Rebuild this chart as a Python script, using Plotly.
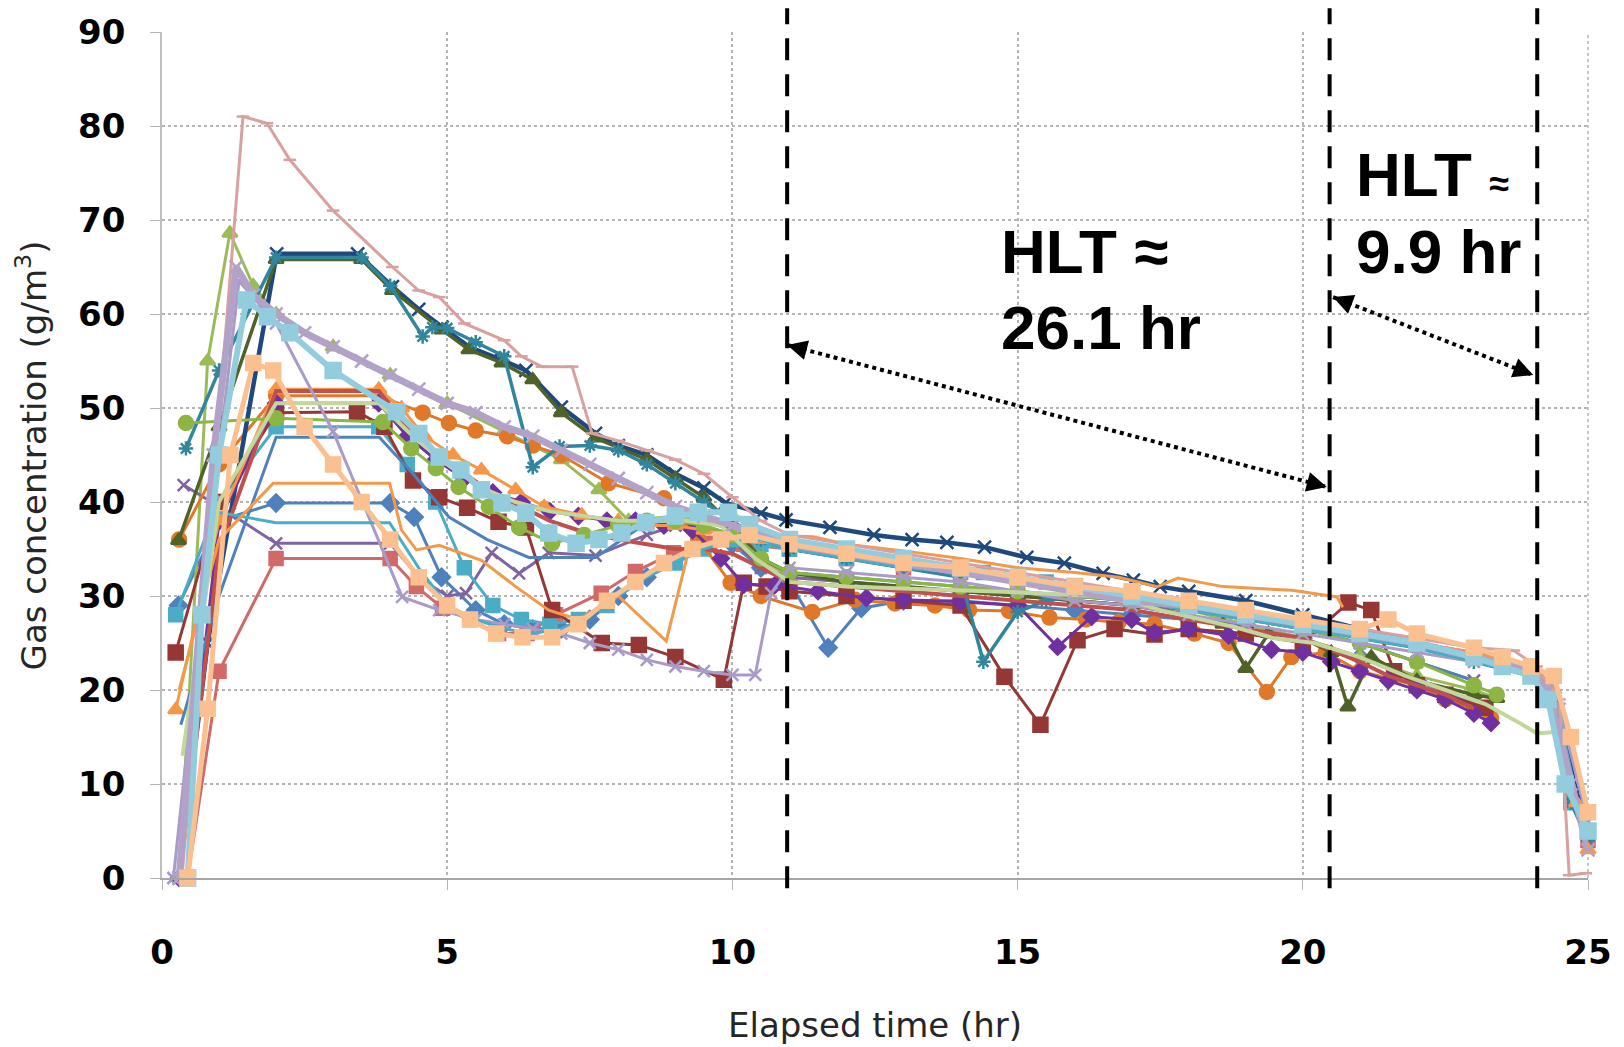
import plotly.graph_objects as go

# ---- monitoring runs: elapsed time (hr) and gas concentration (g/m3) ----
t_blue_dia = [0.29, 1.0, 2.0, 4.0, 4.42, 4.9, 5.5, 6.0, 6.5, 7.0, 7.5, 8.0, 8.5, 9.0, 9.5, 10.0, 10.5, 11.0, 11.68, 12.26, 13.0, 14.0, 15.0, 16.0, 17.0, 18.0, 19.0, 20.0, 21.0, 22.0, 23.0]
c_blue_dia = [29, 38, 39.9, 39.9, 38.4, 32, 28.5, 27, 26.5, 26.5, 27.5, 30, 32, 34, 35.5, 35.5, 33, 31.5, 24.5, 28.7, 29.5, 29.5, 29, 28.5, 28, 27.5, 27, 25.5, 23.5, 21, 18.5]

t_red_sq = [0.45, 1.0, 2.0, 4.0, 4.46, 4.92, 5.4, 5.9, 6.4, 6.9, 7.7, 8.3, 8.97, 9.6, 10.2, 11, 12, 13, 14, 15, 16, 17, 18, 19, 20, 21, 22, 23, 23.5, 24, 24.3, 24.7, 25]
c_red_sq = [0, 22, 34, 34, 31, 28.7, 27.5, 26, 26, 28, 30.3, 32.6, 34.6, 35.6, 35.5, 35, 34, 33, 32.5, 31.5, 30.5, 29.5, 29, 28, 27, 26, 25, 24, 23.5, 22.5, 20, 9, 4]

t_green_tri = [0.3, 0.8, 1.19, 1.6, 2.0, 3.0, 4.0, 5.0, 6.0, 7.0, 7.66, 8.18, 9.0, 9.5, 10.0, 10.5, 11, 12, 13, 14, 15, 16, 17, 18, 19, 20, 21, 22, 23, 23.4]
c_green_tri = [0, 55, 68.6, 63, 60, 56.5, 53.5, 50.5, 47.5, 44.5, 41.3, 38, 38.5, 38, 37, 34, 32, 31.5, 31, 30.5, 30, 29.5, 29, 28.5, 27, 25.5, 23.5, 21.5, 20, 19.1]

t_violet_x = [0.38, 1.19, 2.0, 4.0, 4.5, 5.0, 5.33, 5.78, 6.26, 6.78, 7.6, 8.5, 9.0, 9.5, 10.0, 10.5, 11, 12, 13, 14, 15, 16, 17, 18, 19, 20, 21, 22, 23]
c_violet_x = [41.8, 38.8, 35.6, 35.6, 32, 30, 30.3, 34.6, 32.4, 34.6, 34.3, 36.5, 37.5, 37.5, 36, 33, 32, 31.5, 31, 30.5, 30, 29.5, 29, 28.5, 27.5, 26.5, 25, 23, 21]

t_aqua_star = [0.24, 1.0, 2.0, 3.8, 4.3, 4.8, 5.3, 5.8, 6.3, 6.8, 7.3, 7.8, 8.3, 9.0, 9.5, 10, 10.5, 11, 12, 13, 14, 14.4, 15.0, 15.5, 16, 17, 18, 19, 20, 21, 22, 23, 24, 24.3, 24.7, 25]
c_aqua_star = [28, 40, 48, 48, 44, 40, 33, 29, 27.5, 27, 27.5, 29, 31.5, 33.5, 35, 36, 35.5, 35, 34, 33.5, 33, 32.5, 32, 31.5, 31, 30, 29, 28, 27, 26, 25, 23.5, 22, 20, 8, 5]

t_orange_circ = [0.3, 1.0, 2.0, 3.8, 4.57, 5.03, 5.5, 6.05, 6.5, 7.0, 7.83, 8.8, 9.4, 9.97, 10.5, 11.4, 12.15, 12.85, 13.55, 14.15, 14.85, 15.56, 16.2, 16.77, 17.4, 18.1, 18.7, 19.37, 19.8, 20.4, 21, 22, 22.5, 23, 23.3]
c_orange_circ = [36, 44, 51.3, 51.3, 49.5, 48.4, 47.6, 47, 46, 45, 42, 40.4, 36, 31.4, 30, 28.3, 29.6, 29.2, 29, 28.5, 28.4, 27.7, 27.5, 27.2, 27, 26, 25, 19.8, 23.5, 24, 22, 20.5, 19, 18, 17]

t_navy = [0.3, 0.8, 2.01, 3.43, 4.04, 4.5, 4.91, 5.38, 5.96, 6.38, 7.0, 7.6, 8.0, 8.5, 9.0, 9.5, 9.88, 10.5, 10.94, 11.71, 12.48, 13.15, 13.76, 14.42, 15.16, 15.82, 16.5, 17.03, 17.5, 18, 19, 20, 21, 22, 23, 24, 24.4, 24.8, 25]
c_navy = [0, 25, 66.4, 66.4, 62.9, 60.5, 58.6, 56.5, 55.1, 54, 50.1, 47.3, 46, 45, 43, 41.5, 39.9, 38.8, 38.1, 37.3, 36.5, 36, 35.7, 35.2, 34.1, 33.5, 32.4, 31.7, 31, 30.5, 29.5, 28, 26.5, 25, 23.5, 22, 20.5, 9, 6]

t_maroon = [0.24, 1.0, 2.0, 3.42, 3.9, 4.4, 4.86, 5.35, 5.9, 6.38, 6.84, 7.71, 8.36, 9.0, 9.85, 10.2, 10.6, 11, 12, 13, 14, 14.77, 15.4, 16.05, 16.7, 17.4, 18, 19, 20, 20.8, 21.2, 21.6, 22, 22.5, 23.2]
c_maroon = [24, 40, 49.5, 49.6, 48, 42.3, 40.5, 39.4, 37.9, 37.3, 28.5, 25, 24.8, 23.5, 21.1, 31.4, 31, 30.5, 30, 29.5, 29, 21.4, 16.3, 25.3, 26.5, 25.9, 26.5, 26, 25, 29.3, 28.5, 22, 20.5, 19.5, 18.1]

t_olive = [0.29, 1.0, 2.0, 3.5, 4.04, 4.91, 5.38, 5.96, 6.5, 7.0, 7.6, 8.5, 9.0, 9.5, 10.0, 10.5, 11, 12, 13, 14, 15, 16, 17, 18, 18.6, 19.0, 19.4, 20, 20.5, 20.79, 21.2, 22, 23, 23.4]
c_olive = [35.9, 48, 65.8, 65.8, 62.5, 58.3, 56.2, 54.8, 53, 49.5, 46.8, 44.5, 42.5, 40.5, 37.5, 34, 32.5, 31.5, 31, 30.5, 30, 29.5, 29, 28, 27, 22.3, 26, 25.5, 24, 18.2, 23.5, 21, 19.5, 19.1]

t_plum_dia = [0.3, 1.0, 2.0, 3.8, 4.3, 4.8, 5.3, 5.8, 6.3, 6.8, 7.3, 7.8, 8.3, 8.8, 9.3, 9.8, 10.2, 10.75, 11.5, 12.35, 13, 14, 15, 15.7, 16.3, 17, 17.4, 18, 18.7, 19.45, 20, 20.5, 21, 21.5, 22, 22.5, 23, 23.3]
c_plum_dia = [0, 38, 50.5, 50.5, 47, 44.5, 42.5, 41, 40, 39, 38.5, 38, 38, 37.5, 37, 34, 31.2, 31.2, 30.5, 29.8, 29.6, 29.4, 29, 24.6, 27.8, 27.5, 26.1, 26.5, 25.8, 24.3, 24, 23, 22, 21, 20, 19, 17.5, 16.5]

t_teal = [0.42, 1.0, 2.0, 3.5, 4.0, 4.57, 4.74, 5.0, 5.5, 6.0, 6.5, 6.97, 7.5, 8.0, 8.5, 9.0, 9.5, 10.0, 10.5, 11, 12, 13, 14, 14.4, 15.0, 15.5, 16, 17, 18, 19, 20, 21, 22, 23, 24, 24.3, 24.7, 25]
c_teal = [45.7, 54, 66, 66, 63, 57.6, 58.6, 58.5, 57, 55.5, 43.7, 45.9, 46, 45.5, 44, 42, 40, 38, 36, 35, 34, 33, 32, 23, 28.3, 29.5, 30, 29.5, 29, 28, 27, 25.5, 24.5, 23, 21.5, 19, 8, 4]

t_orange_tri = [0.24, 1.0, 2.0, 3.8, 4.2, 4.6, 5.1, 5.6, 6.2, 6.7, 7.36, 8.0, 8.5, 9.0, 9.5, 10, 10.5, 11, 12, 13, 14, 15, 16, 17, 18, 19, 20, 21, 22, 23, 24, 24.4, 24.8, 25]
c_orange_tri = [17.9, 38, 52, 52, 50, 47, 45, 43.4, 41.3, 39.5, 38.6, 38, 37.5, 37.5, 37, 36.5, 36, 35.5, 34.5, 33.5, 32.5, 31.5, 31, 30, 29, 28, 27, 26, 25, 24, 22.5, 20, 8, 3]

t_steel = [0.33, 1.0, 2.0, 3.81, 4.4, 5.03, 5.7, 6.43, 7.0, 7.6, 8.5, 9.0, 9.5, 10, 10.5, 11, 12, 13, 14, 15, 16, 17, 18, 19, 20, 21, 22, 23]
c_steel = [16.3, 30, 46.9, 46.9, 43, 38.4, 36, 34.1, 34.1, 34.1, 37.8, 38, 37.5, 36.5, 34, 32.5, 32, 31.5, 31, 30.5, 30, 29.5, 28.5, 27.5, 26.5, 25, 23, 21]

t_brick = [0.3, 1.0, 2.0, 3.8, 4.3, 4.8, 5.3, 5.8, 6.3, 6.8, 7.3, 8.0, 8.5, 9.0, 9.5, 10, 10.5, 11, 12, 13, 14, 15, 16, 17, 18, 19, 20, 21, 21.5, 22, 22.5, 23]
c_brick = [0, 35, 51.8, 51.8, 48, 45, 43, 41, 39.5, 38, 37, 36, 35.5, 35, 35, 34.5, 33, 31.5, 31, 30.5, 30, 29.5, 29, 28.5, 27.5, 26.5, 25.5, 23, 21.5, 20.5, 19.5, 18]

t_green_circ = [0.42, 2.0, 3.87, 4.37, 4.8, 5.2, 5.73, 6.26, 6.84, 7.4, 8.0, 8.5, 9.0, 9.5, 10.0, 10.5, 11, 12, 13, 14, 15, 16, 17, 18, 19, 20, 21, 22, 23, 23.4]
c_green_circ = [48.4, 48.9, 48.5, 45.7, 43.6, 41.6, 39.5, 37.3, 35.6, 36.5, 37.5, 38, 38, 37.5, 36.5, 34, 32.5, 32, 31.5, 31, 30.5, 30, 29.5, 28.5, 27.5, 26.5, 25, 23, 20.5, 19.5]

t_heather = [0.2, 0.9, 1.35, 2.0, 3.0, 4.21, 4.86, 5.5, 6.0, 6.5, 7.0, 7.5, 8.0, 8.5, 9.0, 9.5, 10.0, 10.4, 10.68, 11.0, 12, 13, 14, 15, 16, 17, 18, 19, 20, 21, 22, 23, 23.5, 24, 24.5, 25]
c_heather = [0, 40, 63.5, 59, 47.5, 29.9, 28.5, 27.5, 27, 26.5, 26, 25, 24.3, 23.2, 22.5, 22, 21.6, 21.6, 30.3, 33, 32.5, 32, 31.5, 30.5, 29.5, 29, 28, 27, 26, 25, 24, 23, 22.5, 21.5, 18, 6]

t_cyan = [0.9, 2.0, 3.99, 4.5, 5.0, 5.5, 6.0, 6.5, 7.0, 7.5, 8.0, 8.5, 9.0, 9.5, 10, 10.5, 11, 12, 13, 14, 15, 16, 17, 18, 19, 20, 21, 22, 23, 24, 24.5, 25]
c_cyan = [39, 37.8, 37.8, 33, 29, 27.5, 26.5, 26, 26.5, 28, 30, 32, 33.5, 35, 36, 36, 35, 34, 33, 32.5, 31.5, 30.5, 29.5, 28.5, 27.5, 26.5, 25.5, 24.5, 23, 21.5, 17, 3]

t_amber = [0.3, 1.0, 1.95, 3.99, 4.2, 4.46, 4.86, 5.6, 6.2, 6.78, 7.3, 8.0, 8.84, 9.26, 9.6, 10.0, 10.5, 11.42, 12, 13, 14, 15, 16, 16.77, 17.45, 17.81, 18.6, 19.81, 20.6, 20.7]
c_amber = [20, 36, 42, 42, 37, 34.9, 35.4, 33.8, 31, 28.5, 27.5, 30, 25.2, 35.5, 35.5, 36, 36.5, 36.3, 35.5, 34.8, 34, 33, 32.5, 32, 31, 31.9, 31, 30.6, 29.9, 28.8]

t_rose = [0.35, 1.42, 1.84, 2.24, 3.0, 4.04, 4.5, 4.86, 5.3, 6.0, 6.3, 6.66, 7.19, 7.54, 8.0, 8.5, 9.0, 9.5, 10.0, 10.5, 11, 12, 13, 14, 15, 16, 17, 18, 19, 20, 21, 22, 23, 23.7, 24.1, 24.5, 24.67, 24.96]
c_rose = [0, 81, 80.3, 76.4, 71, 65, 62.5, 61.8, 59, 57.2, 55.5, 54.4, 54.4, 47.3, 46.5, 45.5, 44.5, 43, 40.5, 38, 36.5, 35.5, 34.5, 33.5, 32.5, 31.5, 30.5, 29.5, 28.5, 27.5, 26.5, 25.5, 24.5, 24.2, 22.5, 19, 0.3, 0.5]

t_pale_green = [0.36, 1.0, 2.0, 3.8, 4.4, 5.0, 5.6, 6.2, 6.8, 7.4, 8.0, 8.6, 9.2, 9.8, 10.4, 11, 12, 13, 14.1, 15, 16, 16.77, 17.5, 18.2, 18.8, 19.5, 20.2, 21, 21.8, 22.5, 23.2, 23.8, 24.1, 24.4]
c_pale_green = [13, 40, 50.5, 50.5, 47, 44, 41.5, 40, 39, 38.5, 38, 38, 38, 37.5, 34, 31.5, 31, 30.8, 30.6, 30.4, 30.1, 29.9, 28.5, 27.5, 26.7, 25.5, 25, 23.5, 21.5, 20, 18.5, 16.5, 15.4, 15.5]

t_lavender = [0.3, 0.9, 1.3, 1.6, 2.0, 2.5, 3.0, 3.5, 4.0, 4.5, 5.0, 5.5, 6.0, 6.5, 7.0, 7.5, 8.0, 8.5, 9.0, 9.5, 10.0, 10.5, 11, 12, 13, 14, 15, 16, 17, 18, 19, 20, 21, 22, 23, 24, 24.3, 24.7, 25]
c_lavender = [0, 45, 65, 62, 60, 58, 56.5, 55, 53.5, 52, 50.5, 49.5, 48, 47, 45.5, 44, 42.5, 41, 39.5, 38.5, 37.5, 36.5, 35.5, 34.5, 33.5, 32.5, 31.5, 30.5, 29.5, 29, 28, 27, 26, 25, 23.5, 22, 20, 10, 3]

t_sky = [0.45, 0.7, 1.0, 1.48, 1.85, 2.24, 3.0, 4.11, 4.5, 4.86, 5.24, 5.6, 5.96, 6.38, 6.78, 7.26, 7.66, 8.06, 8.48, 9.0, 9.4, 9.93, 10.3, 11, 12, 13, 14, 15, 16, 17, 18, 19, 20, 21, 22, 23, 23.5, 24, 24.3, 24.6, 25]
c_sky = [0, 28, 45, 61.5, 59.7, 58, 54, 49.6, 47.3, 44.8, 43.4, 41.3, 39.9, 38.8, 36.7, 35.6, 36, 36.7, 37.8, 38.5, 38.9, 38.9, 37.6, 36, 35, 34, 33, 32, 31, 30, 29, 28, 27, 26, 25, 23.5, 22.5, 21.5, 19, 10, 5]

t_peach = [0.45, 0.8, 1.2, 1.6, 1.95, 2.5, 3.0, 3.5, 4.0, 4.5, 5.0, 5.4, 5.86, 6.32, 6.84, 7.3, 7.8, 8.3, 8.8, 9.3, 9.8, 10.3, 11, 12, 13, 14, 15, 16, 17, 18, 19, 20, 21, 21.5, 22, 23, 23.5, 24, 24.4, 24.7, 25]
c_peach = [0, 18, 45, 54.8, 54, 48, 44, 40, 36, 32, 29, 27.5, 26, 25.6, 25.6, 27, 29.5, 31.5, 33.5, 35, 36, 36.5, 35.5, 34.5, 33.5, 33, 32, 31, 30.5, 29.5, 28.5, 27.5, 26.5, 27.5, 26, 24.5, 23.5, 22.5, 21.5, 15, 7]

# half-life markers (hr) and the two annotated spans
hlt_lines = [10.96, 20.47, 24.11]
span_long = {"x": [10.96, 20.42], "y": [56.7, 41.6], "label": ["HLT ≈", "26.1 hr"]}
span_short = {"x": [20.53, 24.04], "y": [61.8, 53.5], "label": ["HLT", "9.9 hr"]}

x_ticks = [0, 5, 10, 15, 20, 25]
y_ticks = [0, 10, 20, 30, 40, 50, 60, 70, 80, 90]

# (x, y, colour, marker symbol, line width, marker size) in drawing order
runs = [
    (t_blue_dia, c_blue_dia, "#4F81BD", "diamond", 3.0, 13),
    (t_red_sq, c_red_sq, "#D06A68", "square", 3.0, 13),
    (t_green_tri, c_green_tri, "#9BBB59", "triangle-up", 3.0, 13),
    (t_violet_x, c_violet_x, "#8064A2", "x-thin-open", 3.0, 12),
    (t_aqua_star, c_aqua_star, "#4BACC6", "square", 3.0, 13),
    (t_orange_circ, c_orange_circ, "#E0782A", "circle", 3.0, 14),
    (t_navy, c_navy, "#1F497D", "x-thin-open", 4.5, 13),
    (t_maroon, c_maroon, "#953735", "square", 3.0, 14),
    (t_olive, c_olive, "#4F6228", "triangle-up", 3.5, 13),
    (t_plum_dia, c_plum_dia, "#7030A0", "diamond", 3.0, 12),
    (t_teal, c_teal, "#31859C", "asterisk-open", 3.5, 12),
    (t_orange_tri, c_orange_tri, "#F79646", "triangle-up", 3.0, 13),
    (t_steel, c_steel, "#4F81BD", None, 3.0, 0),
    (t_brick, c_brick, "#C0504D", None, 4.0, 0),
    (t_green_circ, c_green_circ, "#8DB543", "circle", 3.0, 14),
    (t_heather, c_heather, "#A99BC8", "x-thin-open", 3.0, 12),
    (t_cyan, c_cyan, "#4BACC6", None, 3.0, 0),
    (t_amber, c_amber, "#F39A4A", None, 3.0, 0),
    (t_rose, c_rose, "#D9A0A0", "line-ew-open", 3.0, 9),
    (t_pale_green, c_pale_green, "#C3D69B", None, 4.0, 0),
    (t_lavender, c_lavender, "#B3A2C7", "x-thin-open", 7.0, 13),
    (t_sky, c_sky, "#93CDDD", "square", 6.0, 15),
    (t_peach, c_peach, "#FAC090", "square", 5.0, 14),
]

fig = go.Figure()
for xs, ys, col, sym, lw, ms in runs:
    if sym is None:
        fig.add_trace(go.Scatter(x=xs, y=ys, mode="lines", line=dict(color=col, width=lw),
                                 cliponaxis=False, showlegend=False, hoverinfo="skip"))
    else:
        fig.add_trace(go.Scatter(
            x=xs, y=ys, mode="lines+markers", line=dict(color=col, width=lw),
            marker=dict(symbol=sym, size=ms, color=col, line=dict(color=col, width=2.5)),
            cliponaxis=False, showlegend=False, hoverinfo="skip"))

# vertical dashed half-life markers
for xv in hlt_lines:
    fig.add_shape(type="line", xref="x", yref="paper", x0=xv, x1=xv, y0=-0.012, y1=1.028,
                  line=dict(color="black", width=4, dash="22px,14px"))

# dotted double-headed arrows spanning each half-life interval
for span in (span_long, span_short):
    (x0, x1), (y0, y1) = span["x"], span["y"]
    fig.add_shape(type="line", xref="x", yref="y", x0=x0, y0=y0, x1=x1, y1=y1,
                  line=dict(color="black", width=4, dash="dot"))
    # pixel-space direction for the arrowheads
    px = (x1 - x0) * 57.2
    py = (y1 - y0) * 9.4
    n = (px * px + py * py) ** 0.5
    ux, uy = px / n * 18 / 57.2, py / n * 18 / 9.4
    for (hx, hy, bx, by) in ((x1, y1, x1 - ux, y1 - uy), (x0, y0, x0 + ux, y0 + uy)):
        fig.add_annotation(x=hx, y=hy, ax=bx, ay=by, axref="x", ayref="y", xref="x", yref="y",
                           text="", showarrow=True, arrowhead=2, arrowsize=1.6,
                           arrowwidth=2.5, arrowcolor="black")

hlt_font = dict(family="Liberation Sans, Arial, sans-serif", size=62, color="black")
fig.add_annotation(x=14.68, y=66.6, xref="x", yref="y", text="<b>" + span_long["label"][0] + "</b>",
                   showarrow=False, xanchor="left", yanchor="middle", font=hlt_font)
fig.add_annotation(x=14.68, y=58.6, xref="x", yref="y", text="<b>" + span_long["label"][1] + "</b>",
                   showarrow=False, xanchor="left", yanchor="middle", font=hlt_font)
fig.add_annotation(x=20.89, y=74.8, xref="x", yref="y",
                   text="<b>" + span_short["label"][0] + " <span style='font-size:36px'>≈</span></b>",
                   showarrow=False, xanchor="left", yanchor="middle", font=hlt_font)
fig.add_annotation(x=20.89, y=66.7, xref="x", yref="y", text="<b>" + span_short["label"][1] + "</b>",
                   showarrow=False, xanchor="left", yanchor="middle", font=hlt_font)

# axis titles
title_font = dict(family="DejaVu Sans, sans-serif", size=34, color="#262626")
fig.add_annotation(x=0.5, y=-0.174, xref="paper", yref="paper", text="Elapsed time (hr)",
                   showarrow=False, xanchor="center", yanchor="middle", font=title_font)
fig.add_annotation(x=-0.0916, y=0.5, xref="paper", yref="paper", text="Gas concentration (g/m<sup>3</sup>)",
                   showarrow=False, xanchor="center", yanchor="middle", textangle=-90, font=title_font)

tick_font = dict(family="DejaVu Sans, sans-serif", size=34, color="black")
fig.update_xaxes(range=[0, 25], tickvals=x_ticks, ticktext=["<b>%d</b>" % v for v in x_ticks],
                 tickfont=tick_font, showgrid=True, gridcolor="#B4B4B4", griddash="dot", gridwidth=1.5,
                 showline=True, linecolor="#A6A6A6", linewidth=2, ticks="outside", ticklen=10,
                 tickcolor="#B4B4B4", ticklabelstandoff=33, zeroline=False)
fig.update_yaxes(range=[0, 90], tickvals=y_ticks, ticktext=["<b>%d</b>" % v for v in y_ticks],
                 tickfont=tick_font, showgrid=True, gridcolor="#B4B4B4", griddash="dot", gridwidth=1.5,
                 showline=True, linecolor="#BFBFBF", linewidth=1.5, ticks="outside", ticklen=10,
                 tickcolor="#B4B4B4", ticklabelstandoff=18, zeroline=False)
# right frame as a dotted gridline
fig.add_shape(type="line", xref="paper", yref="paper", x0=1, x1=1, y0=0, y1=1,
              line=dict(color="#B4B4B4", width=1.5, dash="dot"), layer="below")

fig.update_layout(width=1624, height=1047, margin=dict(l=162, r=32, t=32, b=169),
                  paper_bgcolor="white", plot_bgcolor="white")
fig.write_html("out.html")
